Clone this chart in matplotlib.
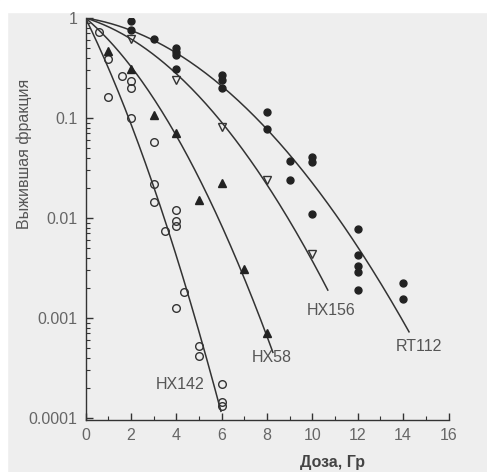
import numpy as np
import matplotlib
matplotlib.use("Agg")
import matplotlib.pyplot as plt
from matplotlib.patches import Rectangle
from matplotlib.ticker import FixedLocator, NullFormatter

plt.rcParams['font.family'] = ['Liberation Sans', 'DejaVu Sans']

# survival data
hx142_dose = [0.6, 1.0, 1.0, 1.6, 2.0, 2.0, 2.0, 3.0, 3.0, 3.0, 3.5, 4.0, 4.0, 4.0,
              4.0, 4.35, 5.0, 5.0, 6.0, 6.0, 6.0]
hx142_surv = [0.72, 0.39, 0.163, 0.265, 0.235, 0.2, 0.10, 0.057, 0.022, 0.0146, 0.0074,
              0.012, 0.0094, 0.0083, 0.00125, 0.00183, 0.00052, 0.00042, 0.00022,
              0.000146, 0.000132]

hx58_dose = [1, 2, 3, 4, 5, 6, 7, 8]
hx58_surv = [0.47, 0.31, 0.107, 0.070, 0.015, 0.0225, 0.0031, 0.0007]

hx156_dose = [2, 4, 6, 8, 10]
hx156_surv = [0.61, 0.24, 0.082, 0.024, 0.0044]

rt112_dose = [2, 2, 3, 4, 4, 4, 4, 6, 6, 6, 8, 8, 9, 9, 10, 10, 10, 12, 12, 12, 12, 12, 14, 14]
rt112_surv = [0.94, 0.76, 0.62, 0.50, 0.46, 0.43, 0.31, 0.27, 0.24, 0.20, 0.116, 0.077,
              0.037, 0.024, 0.041, 0.036, 0.011, 0.0077, 0.0043, 0.0033, 0.0029, 0.0019,
              0.00225, 0.00155]

# fitted LQ curves: log10 S = -(a*D + b*D^2), drawn up to end dose
curve_names = ['HX142', 'HX58', 'HX156', 'RT112']
curve_a = [0.463, 0.19, 0.07, 0.0357]
curve_b = [0.0328, 0.026, 0.0173, 0.01293]
curve_end = [5.97, 8.26, 10.68, 14.26]

# curve labels
label_x = [4.17, 8.19, 10.82, 14.68]
label_y = [2.14e-4, 4.0e-4, 1.2e-3, 5.2e-4]

W, H = 487, 472
fig = plt.figure(figsize=(W / 100, H / 100), dpi=100, facecolor='#eeeeee')
fig.add_artist(Rectangle((0, 1 - 12 / H), 1, 12 / H, transform=fig.transFigure,
                         color='white', zorder=0))
fig.add_artist(Rectangle((0, 0), 7 / W, 1, transform=fig.transFigure,
                         color='white', zorder=0))

ax = fig.add_axes([85.5 / W, (H - 420) / H, 363 / W, 402 / H])
ax.set_facecolor('none')
ax.set_yscale('log')
ax.set_xlim(0, 16)
ax.set_ylim(10 ** -4.02, 1)

line_col = '#333333'
for a, b, end in zip(curve_a, curve_b, curve_end):
    d = np.linspace(0, end, 200)
    ax.plot(d, 10 ** -(a * d + b * d ** 2), color=line_col, lw=1.1, zorder=2)

ms = 5.5
ax.plot(hx142_dose, hx142_surv, 'o', ms=ms, mfc='none', mec='#333333', mew=1.0, zorder=3)
ax.plot(hx58_dose, hx58_surv, '^', ms=ms, mfc='#222222', mec='#222222', zorder=3)
ax.plot(hx156_dose, hx156_surv, 'v', ms=ms, mfc='none', mec='#333333', mew=1.0, zorder=3)
ax.plot(rt112_dose, rt112_surv, 'o', ms=ms - 0.5, mfc='#222222', mec='#222222', zorder=3)

for name, x, y in zip(curve_names, label_x, label_y):
    ax.text(x, y, name, ha='center', va='center', fontsize=11.5, color='#555555')

for s in ['top', 'right']:
    ax.spines[s].set_visible(False)
for s in ['left', 'bottom']:
    ax.spines[s].set_color('#333333')
    ax.spines[s].set_linewidth(1.0)

ax.xaxis.set_major_locator(FixedLocator(range(0, 17, 2)))
ax.xaxis.set_minor_locator(FixedLocator(range(1, 16, 2)))
ax.yaxis.set_major_locator(FixedLocator([1e-4, 1e-3, 1e-2, 1e-1, 1]))
minor = [m * 10.0 ** e for e in range(-4, 0) for m in range(2, 10)]
ax.yaxis.set_minor_locator(FixedLocator(minor))
ax.yaxis.set_minor_formatter(NullFormatter())
ax.set_yticklabels(['0.0001', '0.001', '0.01', '0.1', '1'])
ax.set_xticklabels([str(v) for v in range(0, 17, 2)])

ax.tick_params(which='both', direction='in', colors='#333333', labelcolor='#666666',
               labelsize=11.5)
ax.tick_params(which='major', length=5, width=1.0)
ax.tick_params(which='minor', length=3, width=0.8)
ax.tick_params(axis='y', pad=6)
ax.tick_params(axis='x', pad=6)

ax.set_xlabel('Доза, Гр', fontsize=11.5, fontweight='bold', color='#444444')
ax.xaxis.set_label_coords((332.7 - 85.5) / 363, -35 / 402)
ax.set_ylabel('Выжившая фракция', fontsize=11.5, color='#555555')
ax.yaxis.set_label_coords((32 - 85.5) / 363, (420 - 154) / 402)

fig.savefig('out.png', dpi=100, facecolor=fig.get_facecolor())
